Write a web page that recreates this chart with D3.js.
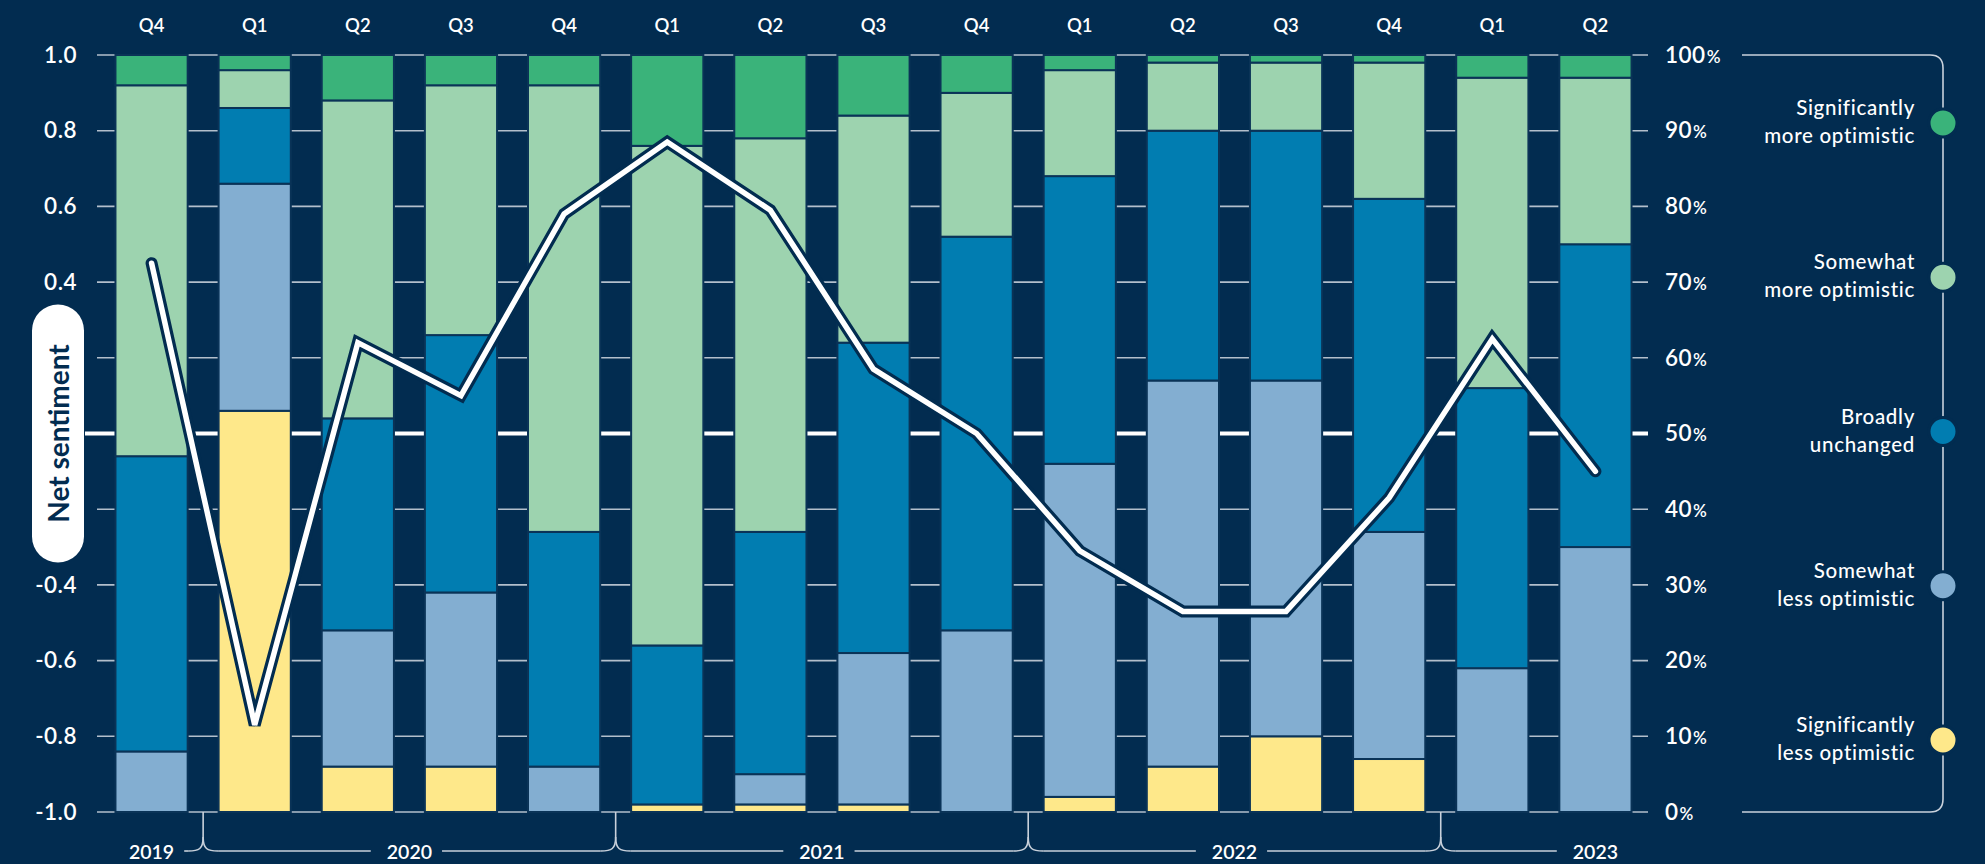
<!DOCTYPE html>
<html>
<head>
<meta charset="utf-8">
<script src="https://cdn.jsdelivr.net/npm/d3@7"></script>
<style>
  html, body { margin: 0; padding: 0; background: #022c50; }
  svg { display: block; }
  text { font-family: "Lato", "Open Sans", sans-serif; }
</style>
</head>
<body>
<svg id="chart" width="1985" height="864"></svg>
<script>
// ---------------- DATA ----------------
const quarterLabels = ["Q4","Q1","Q2","Q3","Q4","Q1","Q2","Q3","Q4","Q1","Q2","Q3","Q4","Q1","Q2"];
const yearOfQuarter = ["2019","2020","2020","2020","2020","2021","2021","2021","2021","2022","2022","2022","2022","2023","2023"];
const yearLabels = ["2019","2020","2021","2022","2023"];

// percent of respondents, stacked bottom to top
const sigLess   = [0, 53, 6, 6, 0, 1, 1, 1, 0, 2, 6, 10, 7, 0, 0];
const someLess  = [8, 30, 18, 23, 6, 0, 4, 20, 24, 44, 51, 47, 30, 19, 35];
const unchanged = [39, 10, 28, 34, 31, 21, 32, 41, 52, 38, 33, 33, 44, 37, 40];
const someMore  = [49, 5, 42, 33, 59, 66, 52, 30, 19, 14, 9, 9, 18, 41, 22];
const sigMore   = [4, 2, 6, 4, 4, 12, 11, 8, 5, 2, 1, 1, 1, 3, 3];

// net sentiment (left axis)
const netSentiment = [0.45, -0.77, 0.24, 0.10, 0.58, 0.77, 0.59, 0.17, 0.00, -0.31, -0.47, -0.47, -0.17, 0.25, -0.10];

const leftTicks = [-1.0, -0.8, -0.6, -0.4, 0.4, 0.6, 0.8, 1.0];
const rightTicks = [0, 10, 20, 30, 40, 50, 60, 70, 80, 90, 100];

const seriesKeys = ["sigLess", "someLess", "unchanged", "someMore", "sigMore"];
const seriesNames = {
  sigMore: ["Significantly", "more optimistic"],
  someMore: ["Somewhat", "more optimistic"],
  unchanged: ["Broadly", "unchanged"],
  someLess: ["Somewhat", "less optimistic"],
  sigLess: ["Significantly", "less optimistic"]
};
const colors = {
  sigLess: "#fee88a",
  someLess: "#83aed1",
  unchanged: "#017db1",
  someMore: "#9dd3af",
  sigMore: "#3ab37a"
};

// ---------------- BUILD ----------------
const BG = "#022c50";
const svg = d3.select("#chart");
svg.append("rect").attr("width", 1985).attr("height", 864).attr("fill", BG);

const ids = quarterLabels.map((q, i) => yearOfQuarter[i] + " " + q);
const table = ids.map((id, i) => ({
  id, sigLess: sigLess[i], someLess: someLess[i], unchanged: unchanged[i],
  someMore: someMore[i], sigMore: sigMore[i], net: netSentiment[i]
}));

const plotTop = 55, plotBottom = 812;
const x = d3.scaleBand().domain(ids).range([100, 1647]).paddingInner(0.3).paddingOuter(0.15);
const yPct = d3.scaleLinear().domain([0, 100]).range([plotBottom, plotTop]);
const yNet = d3.scaleLinear().domain([-1, 1]).range([plotBottom, plotTop]);

// gridlines (behind bars)
const grid = svg.append("g");
grid.selectAll("line.g").data(rightTicks.filter(t => t !== 50)).join("line")
  .attr("x1", 97).attr("x2", 1648)
  .attr("y1", d => yPct(d)).attr("y2", d => yPct(d))
  .attr("stroke", "#b3bfcc").attr("stroke-width", 1.6);
grid.append("line")
  .attr("x1", 85).attr("x2", 1648)
  .attr("y1", yNet(0)).attr("y2", yNet(0))
  .attr("stroke", "#ffffff").attr("stroke-width", 4);

// stacked bars
const stack = d3.stack().keys(seriesKeys);
const stacked = stack(table);
svg.append("g").selectAll("g").data(stacked).join("g")
  .attr("fill", d => colors[d.key])
  .selectAll("rect").data(d => d.filter(s => s[1] - s[0] > 0)).join("rect")
  .attr("x", d => x(d.data.id))
  .attr("width", x.bandwidth())
  .attr("y", d => yPct(d[1]))
  .attr("height", d => yPct(d[0]) - yPct(d[1]))
  .attr("stroke", "#0a3357").attr("stroke-width", 2);

// net sentiment line
const line = d3.line().x(d => x(d.id) + x.bandwidth() / 2).y(d => yNet(d.net));
svg.append("path").datum(table).attr("d", line)
  .attr("fill", "none").attr("stroke", BG).attr("stroke-width", 12)
  .attr("stroke-linejoin", "miter").attr("stroke-linecap", "round");
svg.append("path").datum(table).attr("d", line)
  .attr("fill", "none").attr("stroke", "#ffffff").attr("stroke-width", 5.5)
  .attr("stroke-linejoin", "miter").attr("stroke-linecap", "round");

// left axis
const leftAxis = svg.append("g").attr("transform", "translate(77,0)")
  .call(d3.axisLeft(yNet).tickValues(leftTicks).tickSize(0).tickPadding(0).tickFormat(d => d.toFixed(1)));
leftAxis.select(".domain").remove();
leftAxis.selectAll("text").attr("fill", "#ffffff").attr("font-size", 22.5).attr("font-weight", 600)
  .attr("font-family", "Lato, sans-serif").attr("letter-spacing", 0.5);

// right axis
const rightAxis = svg.append("g").attr("transform", "translate(1665,0)")
  .call(d3.axisRight(yPct).tickValues(rightTicks).tickSize(0).tickPadding(0));
rightAxis.select(".domain").remove();
rightAxis.selectAll("text").attr("fill", "#ffffff").attr("font-size", 22.5).attr("font-weight", 600)
  .attr("font-family", "Lato, sans-serif").attr("letter-spacing", 0.5)
  .each(function(d) {
    const t = d3.select(this);
    t.text(d);
    t.append("tspan").attr("font-size", 17).attr("dx", 1).text("%");
  });

// quarter labels on top
svg.append("g").selectAll("text").data(table).join("text")
  .attr("x", d => x(d.id) + x.bandwidth() / 2)
  .attr("y", 25)
  .attr("text-anchor", "middle").attr("dominant-baseline", "central")
  .attr("fill", "#ffffff").attr("font-size", 18.5).attr("font-weight", 600)
  .text((d, i) => quarterLabels[i]);

// Net sentiment pill
const pill = svg.append("g").attr("transform", `translate(58,${yNet(0)})`);
pill.append("rect").attr("x", -26).attr("y", -129).attr("width", 52).attr("height", 258)
  .attr("rx", 26).attr("fill", "#ffffff");
pill.append("text").attr("transform", "rotate(-90)")
  .attr("text-anchor", "middle").attr("dominant-baseline", "central")
  .attr("fill", BG).attr("font-size", 28).attr("font-weight", 700)
  .text("Net sentiment");

// year braces at bottom
const braceColor = "#c9d1db";
const yearGroups = yearLabels.map(yr => {
  const qs = table.filter((d, i) => yearOfQuarter[i] === yr);
  return { yr, first: qs[0].id, last: qs[qs.length - 1].id };
});
const step = x.step();
const dividers = yearGroups.slice(1).map(g => x(g.first) - (step - x.bandwidth()) / 2);
const hy = 851, r = 15;
const braces = svg.append("g").attr("fill", "none").attr("stroke", braceColor).attr("stroke-width", 1.6);
dividers.forEach(dx => {
  braces.append("path")
    .attr("d", `M${dx},${plotBottom} V${hy - 14} C${dx},${hy - 2} ${dx - 4},${hy} ${dx - r},${hy}`);
  braces.append("path")
    .attr("d", `M${dx},${hy - 14} C${dx},${hy - 2} ${dx + 4},${hy} ${dx + r},${hy}`);
});
const yearText = svg.append("g");
yearGroups.forEach((g, gi) => {
  let cx;
  if (gi === 0) cx = x(g.first) + x.bandwidth() / 2;
  else if (gi === yearGroups.length - 1) cx = x(g.last) + x.bandwidth() / 2;
  else cx = (x(g.first) + x(g.last) + x.bandwidth()) / 2;
  const t = yearText.append("text").attr("x", cx).attr("y", hy)
    .attr("text-anchor", "middle").attr("dominant-baseline", "central")
    .attr("fill", "#ffffff").attr("font-size", 19.5).attr("font-weight", 600).text(g.yr);
  const w = t.node().getComputedTextLength();
  const leftEdge = gi === 0 ? null : dividers[gi - 1] + r;
  const rightEdge = gi === yearGroups.length - 1 ? null : dividers[gi] - r;
  if (leftEdge !== null) braces.append("line").attr("x1", leftEdge).attr("x2", cx - w / 2 - 16).attr("y1", hy).attr("y2", hy);
  if (rightEdge !== null) braces.append("line").attr("x1", cx + w / 2 + 10).attr("x2", rightEdge).attr("y1", hy).attr("y2", hy);
});

// legend
const lgX = 1943, lgLeft = 1742, lr = 13;
const legendKeys = ["sigMore", "someMore", "unchanged", "someLess", "sigLess"];
const legendY = d3.scalePoint().domain(legendKeys).range([123, 740]);
const lg = svg.append("g");
lg.append("path")
  .attr("d", `M${lgLeft},${plotTop} H${lgX - lr} Q${lgX},${plotTop} ${lgX},${plotTop + lr} V${plotBottom - lr} Q${lgX},${plotBottom} ${lgX - lr},${plotBottom} H${lgLeft}`)
  .attr("fill", "none").attr("stroke", braceColor).attr("stroke-width", 1.6);
lg.selectAll("circle").data(legendKeys).join("circle")
  .attr("cx", lgX).attr("cy", d => legendY(d)).attr("r", 14)
  .attr("fill", d => colors[d]).attr("stroke", BG).attr("stroke-width", 3);
legendKeys.forEach(k => {
  const t = lg.append("text").attr("x", 1915).attr("y", legendY(k) - 8)
    .attr("text-anchor", "end").attr("fill", "#ffffff").attr("font-size", 20.5)
    .attr("font-weight", 500).attr("letter-spacing", 0.7);
  t.append("tspan").attr("x", 1915).text(seriesNames[k][0]);
  t.append("tspan").attr("x", 1915).attr("dy", 28).text(seriesNames[k][1]);
});
</script>
</body>
</html>
